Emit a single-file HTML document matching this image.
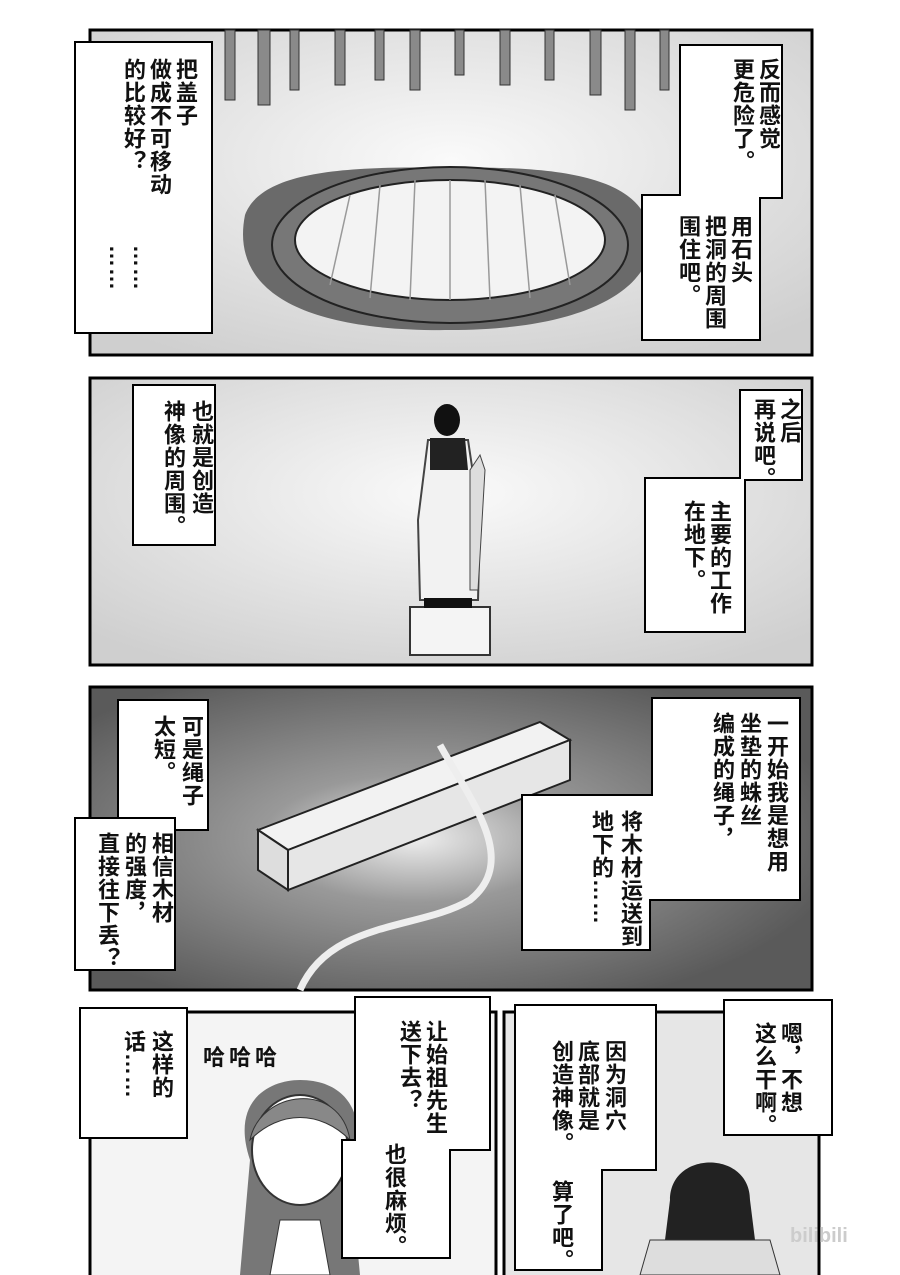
<!DOCTYPE html>
<html><head><meta charset="utf-8">
<style>
body{margin:0;background:#fff;}
#c{position:relative;width:900px;height:1275px;overflow:hidden;background:#fff;font-family:"Liberation Sans","Noto Sans CJK SC",sans-serif;}
svg{position:absolute;left:0;top:0;}
.t{position:absolute;writing-mode:vertical-rl;font-size:22px;line-height:26px;color:#111;font-weight:bold;letter-spacing:1px;white-space:nowrap;}
.h{position:absolute;font-size:22px;color:#111;font-weight:bold;}
</style></head><body><div id="c">
<svg width="900" height="1275" viewBox="0 0 900 1275">
<defs>
<radialGradient id="g1" cx="50%" cy="40%" r="70%"><stop offset="0" stop-color="#fafafa"/><stop offset="1" stop-color="#cfcfcf"/></radialGradient>
<radialGradient id="g3" cx="45%" cy="50%" r="60%"><stop offset="0" stop-color="#eee"/><stop offset="0.35" stop-color="#999"/><stop offset="1" stop-color="#5a5a5a"/></radialGradient>
</defs>
<!-- panel 1 -->
<rect x="90" y="30" width="722" height="325" fill="url(#g1)" stroke="#000" stroke-width="3"/>
<g fill="#8a8a8a" stroke="#333" stroke-width="1">
<rect x="225" y="30" width="10" height="70"/><rect x="258" y="30" width="12" height="75"/><rect x="290" y="30" width="9" height="60"/><rect x="335" y="30" width="10" height="55"/><rect x="375" y="30" width="9" height="50"/><rect x="410" y="30" width="10" height="60"/><rect x="455" y="30" width="9" height="45"/><rect x="500" y="30" width="10" height="55"/><rect x="545" y="30" width="9" height="50"/><rect x="590" y="30" width="11" height="65"/><rect x="625" y="30" width="10" height="80"/><rect x="660" y="30" width="9" height="60"/>
</g>
<path d="M245,215 C260,175 330,165 450,168 C570,165 640,180 650,230 C660,280 600,330 450,330 C300,332 230,290 245,215Z" fill="#6a6a6a"/>
<ellipse cx="450" cy="245" rx="178" ry="78" fill="#777" stroke="#222" stroke-width="2"/>
<ellipse cx="450" cy="240" rx="155" ry="60" fill="#f3f3f3" stroke="#222" stroke-width="2"/>
<g stroke="#999" stroke-width="1.5"><line x1="350" y1="195" x2="330" y2="285"/><line x1="380" y1="185" x2="370" y2="298"/><line x1="415" y1="180" x2="410" y2="300"/><line x1="450" y1="180" x2="450" y2="300"/><line x1="485" y1="180" x2="490" y2="300"/><line x1="520" y1="185" x2="530" y2="298"/><line x1="555" y1="195" x2="570" y2="285"/></g>
<!-- panel 2 -->
<rect x="90" y="378" width="722" height="287" fill="url(#g1)" stroke="#000" stroke-width="3"/>
<rect x="410" y="607" width="80" height="48" fill="#f4f4f4" stroke="#333" stroke-width="2"/>
<ellipse cx="447" cy="420" rx="13" ry="16" fill="#111"/>
<path d="M428,440 L468,440 L480,520 L478,600 L420,600 L418,520Z" fill="#f2f2f2" stroke="#444" stroke-width="2"/>
<path d="M430,438 L465,438 L468,470 L430,470Z" fill="#222"/>
<rect x="424" y="598" width="48" height="10" fill="#111"/>
<path d="M470,470 L480,455 L485,470 L478,590 L470,590Z" fill="#ddd" stroke="#444"/>
<!-- panel 3 -->
<rect x="90" y="687" width="722" height="303" fill="url(#g3)" stroke="#000" stroke-width="3"/>
<path d="M258,830 L540,722 L570,740 L288,850Z" fill="#f2f2f2" stroke="#222" stroke-width="2"/>
<path d="M258,830 L288,850 L288,890 L258,870Z" fill="#ddd" stroke="#222" stroke-width="2"/>
<path d="M288,850 L570,740 L570,780 L288,890Z" fill="#e6e6e6" stroke="#222" stroke-width="2"/>
<path d="M440,745 C470,800 520,860 470,900 C420,930 330,920 300,990" fill="none" stroke="#eee" stroke-width="7"/>
<!-- panel 4 -->
<rect x="90" y="1012" width="406" height="270" fill="#f4f4f4" stroke="#000" stroke-width="3"/>
<rect x="504" y="1012" width="315" height="270" fill="#e6e6e6" stroke="#000" stroke-width="3"/>
<path d="M240,1275 L250,1160 C230,1100 270,1080 300,1080 C350,1080 370,1120 350,1170 L360,1275Z" fill="#777"/>
<ellipse cx="300" cy="1150" rx="48" ry="55" fill="#fff" stroke="#333" stroke-width="2"/>
<path d="M250,1140 C260,1090 340,1080 350,1140 C320,1110 280,1110 250,1140Z" fill="#888" stroke="#333"/>
<path d="M270,1275 L280,1220 L320,1220 L330,1275Z" fill="#fff" stroke="#333"/>
<path d="M670,1200 C670,1150 750,1150 750,1200 L755,1240 L665,1240Z" fill="#222"/>
<path d="M640,1275 L650,1240 L770,1240 L780,1275Z" fill="#ddd" stroke="#333"/>
<!-- bubbles -->
<g fill="#fff" stroke="#000" stroke-width="2">
<rect x="75" y="42" width="137" height="291"/>
<path d="M680,45 L782,45 L782,198 L760,198 L760,340 L642,340 L642,195 L680,195Z"/>
<rect x="133" y="385" width="82" height="160"/>
<path d="M740,390 L802,390 L802,480 L745,480 L745,632 L645,632 L645,478 L740,478Z"/>
<rect x="118" y="700" width="90" height="130"/>
<rect x="75" y="818" width="100" height="152"/>
<path d="M652,698 L800,698 L800,900 L650,900 L650,950 L522,950 L522,795 L652,795Z"/>
<rect x="80" y="1008" width="107" height="130"/>
<path d="M355,997 L490,997 L490,1150 L450,1150 L450,1258 L342,1258 L342,1140 L355,1140Z"/>
<path d="M515,1005 L656,1005 L656,1170 L602,1170 L602,1270 L515,1270Z"/>
<rect x="724" y="1000" width="108" height="135"/>
</g>
</svg>
<div class="t" style="left:172px;top:58px">把盖子</div>
<div class="t" style="left:146px;top:58px">做成不可移动</div>
<div class="t" style="left:120px;top:58px">的比较好？</div>
<div class="t" style="left:128px;top:245px">……</div>
<div class="t" style="left:104px;top:245px">……</div>
<div class="t" style="left:755px;top:58px">反而感觉</div>
<div class="t" style="left:729px;top:58px">更危险了。</div>
<div class="t" style="left:727px;top:215px">用石头</div>
<div class="t" style="left:701px;top:215px">把洞的周围</div>
<div class="t" style="left:675px;top:215px">围住吧。</div>
<div class="t" style="left:188px;top:400px">也就是创造</div>
<div class="t" style="left:160px;top:400px">神像的周围。</div>
<div class="t" style="left:776px;top:398px">之后</div>
<div class="t" style="left:750px;top:398px">再说吧。</div>
<div class="t" style="left:706px;top:500px">主要的工作</div>
<div class="t" style="left:680px;top:500px">在地下。</div>
<div class="t" style="left:178px;top:715px">可是绳子</div>
<div class="t" style="left:150px;top:715px">太短。</div>
<div class="t" style="left:148px;top:832px">相信木材</div>
<div class="t" style="left:121px;top:832px">的强度，</div>
<div class="t" style="left:94px;top:832px">直接往下丢？</div>
<div class="t" style="left:763px;top:712px">一开始我是想用</div>
<div class="t" style="left:736px;top:712px">坐垫的蛛丝</div>
<div class="t" style="left:709px;top:712px">编成的绳子，</div>
<div class="t" style="left:617px;top:810px">将木材运送到</div>
<div class="t" style="left:588px;top:810px">地下的……</div>
<div class="t" style="left:148px;top:1030px">这样的</div>
<div class="t" style="left:120px;top:1030px">话……</div>
<div class="h" style="left:203px;top:1040px;letter-spacing:4px">哈哈哈</div>
<div class="t" style="left:422px;top:1020px">让始祖先生</div>
<div class="t" style="left:396px;top:1020px">送下去？</div>
<div class="t" style="left:381px;top:1143px">也很麻烦。</div>
<div class="t" style="left:601px;top:1040px">因为洞穴</div>
<div class="t" style="left:574px;top:1040px">底部就是</div>
<div class="t" style="left:548px;top:1040px">创造神像。</div>
<div class="t" style="left:548px;top:1180px">算了吧。</div>
<div class="t" style="left:777px;top:1022px">嗯，不想</div>
<div class="t" style="left:751px;top:1022px">这么干啊。</div>
<div class="h" style="left:790px;top:1225px;font-size:20px;color:#ccc">bilibili</div>
</div></body></html>
